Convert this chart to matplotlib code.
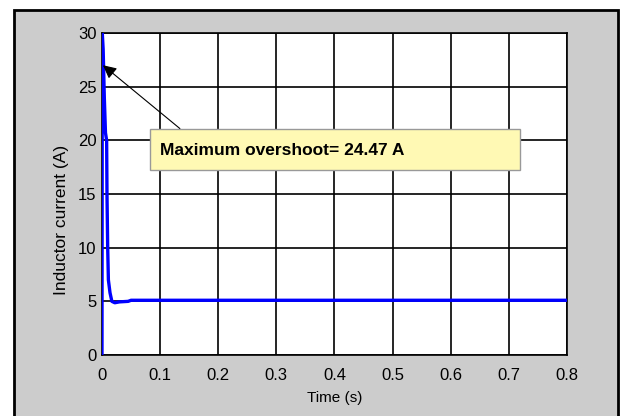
import numpy as np
import matplotlib.pyplot as plt
from matplotlib.patches import Rectangle

plt.rcParams['font.family'] = ['Liberation Sans', 'DejaVu Sans']

# inductor current response
time_s = [0, 0.0005, 0.002, 0.004, 0.006, 0.008, 0.0086, 0.0098, 0.011, 0.0138,
          0.017, 0.022, 0.030, 0.045, 0.050, 0.8]
current_a = [0, 30.0, 28.5, 24.0, 20.7, 20.0, 15.0, 10.0, 7.0, 5.8,
             5.0, 4.87, 4.95, 5.0, 5.1, 5.1]
xticks = [0, 0.1, 0.2, 0.3, 0.4, 0.5, 0.6, 0.7, 0.8]
xticklabels = ['0', '0.1', '0.2', '0.3', '0.4', '0.5', '0.6', '0.7', '0.8']
yticks = [0, 5, 10, 15, 20, 25, 30]
peak_label = 'Maximum overshoot= 24.47 A'

fig = plt.figure(figsize=(6.2, 4.16), dpi=100)
fig.patch.set_facecolor('white')
fig.patches.append(Rectangle((0.023, -0.01), 0.974, 0.986, transform=fig.transFigure,
                             facecolor='#cccccc', edgecolor='black', linewidth=2,
                             zorder=-1))

ax = fig.add_axes([0.1645, 0.1466, 0.75, 0.774])
ax.plot(time_s, current_a, color='#0000ff', linewidth=2.4, zorder=3)
ax.set_xlim(0, 0.8)
ax.set_ylim(0, 30)
ax.set_xticks(xticks)
ax.set_xticklabels(xticklabels)
ax.set_yticks(yticks)
ax.grid(True, color='black', linewidth=1.2, linestyle='-')
ax.tick_params(direction='in', length=0, labelsize=12)
ax.tick_params(axis='x', pad=9)
ax.tick_params(axis='y', pad=4)
for s in ax.spines.values():
    s.set_linewidth(1.2)
ax.set_xlabel('Time (s)', fontsize=11, labelpad=6)
ax.set_ylabel('Inductor current (A)', fontsize=12.5)
ax.yaxis.set_label_coords(-0.07, 0.42)

# callout box and arrow
ax.add_patch(Rectangle((0.0826, 17.24), 0.636, 3.82, facecolor='#fff9b4',
                       edgecolor='#999999', linewidth=1, zorder=5))
ax.text(0.10, 19.1, peak_label, fontsize=12.5, fontweight='bold',
        va='center', ha='left', zorder=6)
ax.annotate('', xy=(0.0017, 27.0), xytext=(0.134, 21.1),
            arrowprops=dict(arrowstyle='-|>', color='black', linewidth=0.8,
                            mutation_scale=20, shrinkA=0, shrinkB=0),
            zorder=6)

fig.savefig('out.png', dpi=100)
